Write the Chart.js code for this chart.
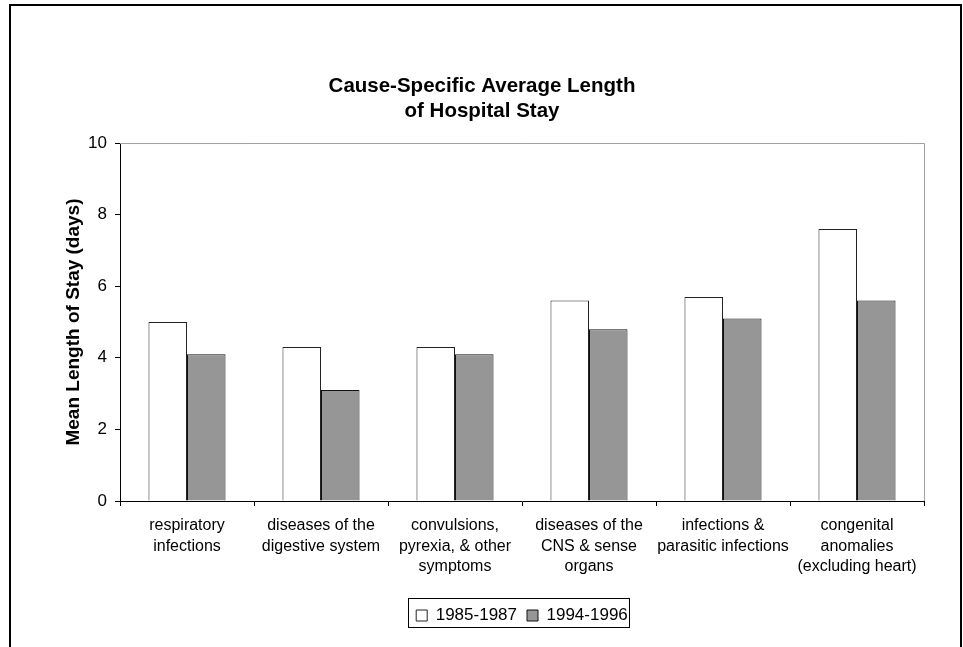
<!DOCTYPE html>
<html>
<head>
<meta charset="utf-8">
<script src="https://cdn.jsdelivr.net/npm/chart.js@4.4.1/dist/chart.umd.min.js"></script>
<style>
  html, body { margin: 0; padding: 0; background: #fff; }
  #wrap { width: 963px; height: 647px; position: relative; }
</style>
</head>
<body>
<div id="wrap"><canvas id="chart" width="963" height="647"></canvas></div>
<script>
// Dados do gráfico
const categorias = [
    ['respiratory', 'infections'],
    ['diseases of the', 'digestive system'],
    ['convulsions,', 'pyrexia, & other', 'symptoms'],
    ['diseases of the', 'CNS & sense', 'organs'],
    ['infections &', 'parasitic infections'],
    ['congenital', 'anomalies', '(excluding heart)']
];
const periodo1 = [5.0, 4.3, 4.3, 5.6, 5.7, 7.6];   // 1985-1987
const periodo2 = [4.1, 3.1, 4.1, 4.8, 5.1, 5.6];   // 1994-1996
const rotulosSeries = ['1985-1987', '1994-1996'];
const tituloLinhas = ['Cause-Specific Average Length', 'of Hospital Stay'];
const tituloEixoY = 'Mean Length of Stay (days)';

const fonte = "'Liberation Sans', Arial, sans-serif";

// Moldura externa, borda cinza do plot e caixa da legenda
const molduraPlugin = {
    id: 'moldura',
    beforeDraw(chart) {
        const ctx = chart.ctx;
        ctx.save();
        ctx.fillStyle = '#fff';
        ctx.fillRect(0, 0, chart.width, chart.height);
        ctx.strokeStyle = '#000';
        ctx.lineWidth = 2;
        ctx.strokeRect(10, 5, 951, 700);
        ctx.restore();
    },
    afterDraw(chart) {
        const ctx = chart.ctx;
        const a = chart.chartArea;
        ctx.save();
        ctx.strokeStyle = '#a0a0a0';
        ctx.lineWidth = 1;
        ctx.beginPath();
        ctx.moveTo(a.left, a.top + 0.5);
        ctx.lineTo(a.right + 0.5, a.top + 0.5);
        ctx.lineTo(a.right + 0.5, a.bottom);
        ctx.stroke();

        // caixa em volta da legenda
        const boxes = chart.legend.legendHitBoxes;
        if (boxes && boxes.length) {
            let esq = Infinity, dir = -Infinity, topo = Infinity, base = -Infinity;
            boxes.forEach(b => {
                esq = Math.min(esq, b.left);
                dir = Math.max(dir, b.left + b.width);
                topo = Math.min(topo, b.top);
                base = Math.max(base, b.top + b.height);
            });
            ctx.strokeStyle = '#000';
            ctx.strokeRect(Math.round(esq - 8) + 0.5, Math.round(topo - 9) + 0.5,
                Math.round(dir - esq + 9), Math.round(base - topo + 12));
        }
        ctx.restore();
    }
};

const ctx = document.getElementById('chart').getContext('2d');
const grafico = new Chart(ctx, {
    type: 'bar',
    data: {
        labels: categorias,
        datasets: [
            {
                label: rotulosSeries[0],
                data: periodo1,
                backgroundColor: '#ffffff',
                borderColor: '#222222',
                borderWidth: 1,
                categoryPercentage: 0.575,
                barPercentage: 1.0
            },
            {
                label: rotulosSeries[1],
                data: periodo2,
                backgroundColor: '#969696',
                borderColor: '#111111',
                borderWidth: 1,
                categoryPercentage: 0.575,
                barPercentage: 1.0
            }
        ]
    },
    options: {
        responsive: false,
        animation: false,
        devicePixelRatio: 1,
        layout: {
            padding: { top: 74, left: 40, right: 39, bottom: 13 }
        },
        scales: {
            x: {
                grid: {
                    display: true,
                    offset: true,
                    drawOnChartArea: false,
                    drawTicks: true,
                    tickLength: 5,
                    color: '#000'
                },
                border: { color: '#000', width: 1 },
                ticks: {
                    color: '#000',
                    font: { family: fonte, size: 16, lineHeight: 1.3 },
                    padding: 9,
                    maxRotation: 0,
                    autoSkip: false
                },
                afterFit(s) { s.height = 96; }
            },
            y: {
                min: 0,
                max: 10,
                grid: {
                    drawOnChartArea: false,
                    drawTicks: true,
                    tickLength: 5,
                    color: '#000'
                },
                border: { color: '#000', width: 1 },
                ticks: {
                    stepSize: 2,
                    color: '#000',
                    padding: 8,
                    font: { family: fonte, size: 17 }
                },
                title: {
                    display: true,
                    text: tituloEixoY,
                    color: '#000',
                    font: { family: fonte, size: 19, weight: 'bold' },
                    padding: { top: 22, bottom: 0 }
                },
                afterFit(s) { s.width = 80; }
            }
        },
        plugins: {
            title: {
                display: true,
                text: tituloLinhas,
                color: '#000',
                font: { family: fonte, size: 20.5, weight: 'bold', lineHeight: 1.22 },
                padding: { top: 0, bottom: 19 }
            },
            legend: {
                position: 'bottom',
                fullSize: false,
                labels: {
                    color: '#000',
                    boxWidth: 11,
                    boxHeight: 11,
                    padding: 10,
                    font: { family: fonte, size: 17 }
                }
            },
            tooltip: { enabled: false }
        }
    },
    plugins: [molduraPlugin]
});
</script>
</body>
</html>
